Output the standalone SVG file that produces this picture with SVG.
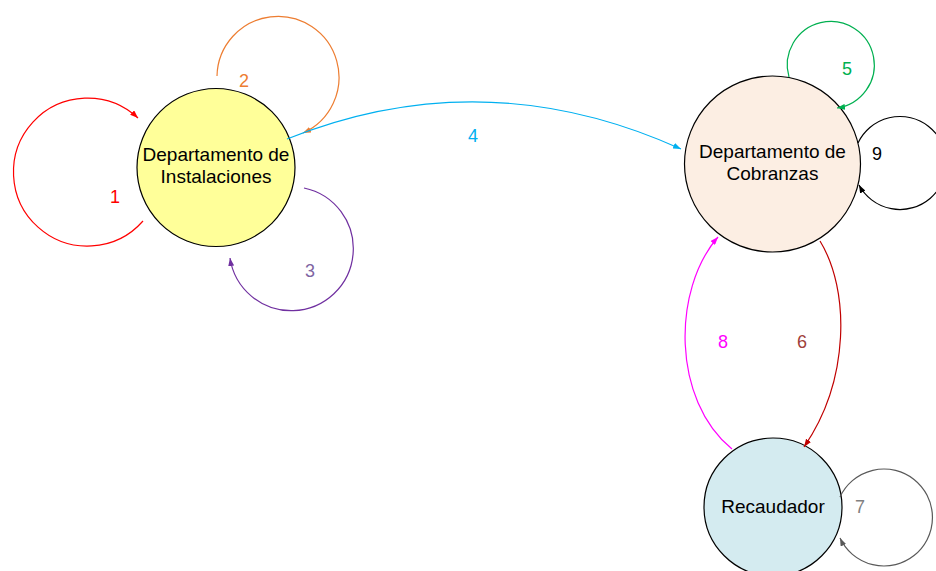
<svg xmlns="http://www.w3.org/2000/svg" width="936" height="571" viewBox="0 0 936 571">
  <style>
    .node { stroke: #000; stroke-width: 1.2; }
    .name { font-family: "Liberation Sans", Arial, sans-serif; font-size: 19px; fill: #000; text-anchor: middle; }
    .lbl { font-family: "Liberation Sans", Arial, sans-serif; font-size: 18px; text-anchor: middle; }
    .edge { fill: none; stroke-width: 1.2; }
  </style>
  <defs>
    <marker id="ah-red" viewBox="0 0 8 6" refX="8" refY="3" markerWidth="8" markerHeight="6" markerUnits="userSpaceOnUse" orient="auto"><path d="M0,0 L8,3 L0,6 z" fill="#FF0000"/></marker>
    <marker id="ah-orange" viewBox="0 0 8 6" refX="8" refY="3" markerWidth="8" markerHeight="6" markerUnits="userSpaceOnUse" orient="auto"><path d="M0,0 L8,3 L0,6 z" fill="#ED7D31"/></marker>
    <marker id="ah-purple" viewBox="0 0 8 6" refX="8" refY="3" markerWidth="8" markerHeight="6" markerUnits="userSpaceOnUse" orient="auto"><path d="M0,0 L8,3 L0,6 z" fill="#7030A0"/></marker>
    <marker id="ah-cyan" viewBox="0 0 8 6" refX="8" refY="3" markerWidth="8" markerHeight="6" markerUnits="userSpaceOnUse" orient="auto"><path d="M0,0 L8,3 L0,6 z" fill="#00B0F0"/></marker>
    <marker id="ah-green" viewBox="0 0 8 6" refX="8" refY="3" markerWidth="8" markerHeight="6" markerUnits="userSpaceOnUse" orient="auto"><path d="M0,0 L8,3 L0,6 z" fill="#00B050"/></marker>
    <marker id="ah-black" viewBox="0 0 8 6" refX="8" refY="3" markerWidth="8" markerHeight="6" markerUnits="userSpaceOnUse" orient="auto"><path d="M0,0 L8,3 L0,6 z" fill="#000"/></marker>
    <marker id="ah-darkred" viewBox="0 0 8 6" refX="8" refY="3" markerWidth="8" markerHeight="6" markerUnits="userSpaceOnUse" orient="auto"><path d="M0,0 L8,3 L0,6 z" fill="#C00000"/></marker>
    <marker id="ah-magenta" viewBox="0 0 8 6" refX="8" refY="3" markerWidth="8" markerHeight="6" markerUnits="userSpaceOnUse" orient="auto"><path d="M0,0 L8,3 L0,6 z" fill="#FF00FF"/></marker>
    <marker id="ah-gray" viewBox="0 0 8 6" refX="8" refY="3" markerWidth="8" markerHeight="6" markerUnits="userSpaceOnUse" orient="auto"><path d="M0,0 L8,3 L0,6 z" fill="#595959"/></marker>
  </defs>

  <rect width="936" height="571" fill="#fff"/>

  <!-- nodes -->
  <g id="instalaciones">
    <circle class="node" cx="216" cy="167.5" r="79" fill="#FFFF99"/>
    <text class="name" x="216" y="161">Departamento de</text>
    <text class="name" x="216" y="183">Instalaciones</text>
  </g>
  <g id="cobranzas">
    <circle class="node" cx="772.5" cy="164" r="88" fill="#FCEEE3"/>
    <text class="name" x="772.5" y="158">Departamento de</text>
    <text class="name" x="772.5" y="180">Cobranzas</text>
  </g>
  <g id="recaudador">
    <circle class="node" cx="773" cy="507" r="69" fill="#D4EBF0"/>
    <text class="name" x="773" y="513">Recaudador</text>
  </g>

  <!-- connectors -->
  <g id="connectors">
    <path class="edge" stroke="#FF0000" d="M143,221 A74,74 0 1 1 138,118" marker-end="url(#ah-red)"/>
    <path class="edge" stroke="#ED7D31" d="M217,76 A61,61 0 1 1 303,133" marker-end="url(#ah-orange)"/>
    <path class="edge" stroke="#7030A0" d="M304,188 A62,62 0 1 1 230,258" marker-end="url(#ah-purple)"/>
    <path class="edge" stroke="#00B0F0" d="M287,139 Q484,60 681,149" marker-end="url(#ah-cyan)"/>
    <path class="edge" stroke="#00B050" d="M789,77 A43.5,43.5 0 1 1 837,108" marker-end="url(#ah-green)"/>
    <path class="edge" stroke="#000" d="M858,143 A46.5,46.5 0 1 1 859,185" marker-end="url(#ah-black)"/>
    <path class="edge" stroke="#C00000" d="M820,241 C850,290 850,380 804,447" marker-end="url(#ah-darkred)"/>
    <path class="edge" stroke="#FF00FF" d="M732,449 C672,400 672,290 718,237" marker-end="url(#ah-magenta)"/>
    <path class="edge" stroke="#595959" d="M840,497 A48.5,48.5 0 1 1 840,538" marker-end="url(#ah-gray)"/>

    <text class="lbl" x="115" y="203" fill="#FF0000">1</text>
    <text class="lbl" x="244" y="87" fill="#ED7D31">2</text>
    <text class="lbl" x="310" y="277" fill="#8064A2">3</text>
    <text class="lbl" x="473" y="142" fill="#00B0F0">4</text>
    <text class="lbl" x="847" y="75" fill="#00B050">5</text>
    <text class="lbl" x="802" y="348" fill="#A0403A">6</text>
    <text class="lbl" x="860" y="513" fill="#808080">7</text>
    <text class="lbl" x="723" y="348" fill="#FF00FF">8</text>
    <text class="lbl" x="877" y="160" fill="#000">9</text>
  </g>
</svg>
